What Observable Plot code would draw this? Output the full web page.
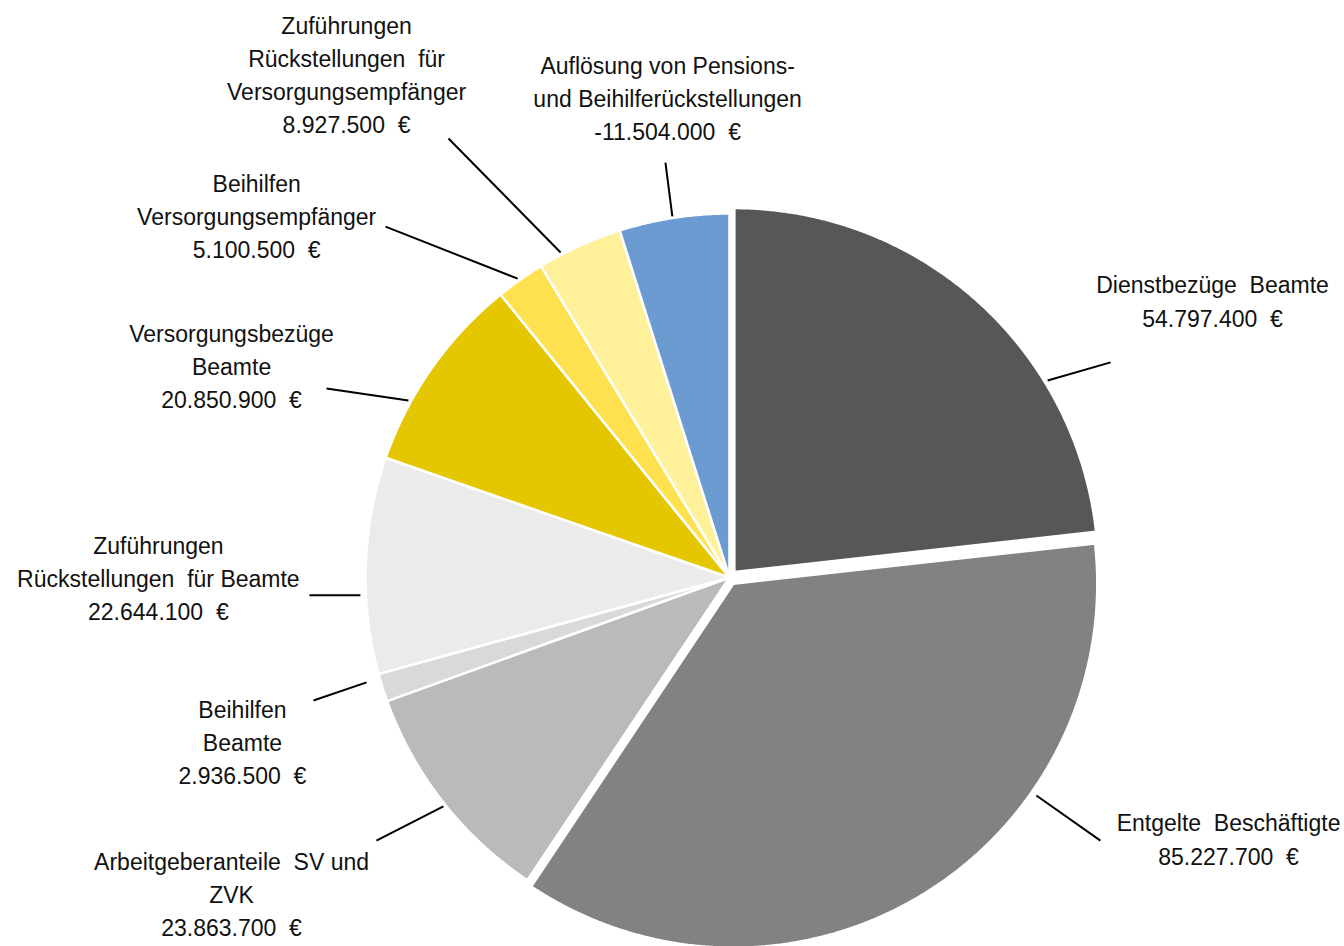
<!DOCTYPE html>
<html>
<head>
<meta charset="utf-8">
<script src="https://cdn.jsdelivr.net/npm/d3@7"></script>
<script src="https://cdn.jsdelivr.net/npm/@observablehq/plot@0.6"></script>
<style>
  html, body { margin: 0; padding: 0; background: #fff; }
  #chart svg text { white-space: pre; }
</style>
</head>
<body>
<div id="chart"></div>
<script>
// ---- data ----
const categories = [
  "Dienstbezüge  Beamte",
  "Entgelte  Beschäftigte",
  "Arbeitgeberanteile  SV und\nZVK",
  "Beihilfen\nBeamte",
  "Zuführungen\nRückstellungen  für Beamte",
  "Versorgungsbezüge\nBeamte",
  "Beihilfen\nVersorgungsempfänger",
  "Zuführungen\nRückstellungen  für\nVersorgungsempfänger",
  "Auflösung von Pensions-\nund Beihilferückstellungen"
];
const values = [54797400, 85227700, 23863700, 2936500, 22644100, 20850900, 5100500, 8927500, -11504000];
const colors = ["#575757", "#828282", "#bababa", "#d9d9d9", "#ebebeb", "#e4c700", "#ffe14f", "#fff09a", "#6b9bd1"];

// ---- layout (units of pie radius, origin at pie centre, y up) ----
const W = 1344, H = 946, CX = 729, CY = 577, R = 364;
const explode = [0.02, 0.02, 0, 0, 0, 0, 0, 0, 0];
const labelPos = [
  [1.327, 0.764], [1.371, -0.714], [-1.368, -0.866], [-1.338, -0.448], [-1.569, 0.003],
  [-1.368, 0.585], [-1.299, 0.997], [-1.052, 1.387], [-0.170, 1.321]
];
const leaderPos = [
  [1.047, 0.591, 0.874, 0.541], [1.019, -0.723, 0.843, -0.599], [-0.970, -0.723, -0.786, -0.629],
  [-1.143, -0.338, -0.997, -0.288], [-1.154, -0.049, -1.014, -0.049], [-1.107, 0.519, -0.882, 0.486],
  [-0.945, 0.964, -0.582, 0.821], [-0.772, 1.206, -0.464, 0.893], [-0.176, 1.140, -0.157, 0.992]
];

const fmt = d3.formatLocale({decimal: ",", thousands: ".", grouping: [3], currency: ["", ""], minus: "-"}).format(",d");

const arcs = d3.pie().sort(null).value(d => Math.abs(d))(values);
const slicePts = [];
arcs.forEach((a, i) => {
  const mid = (a.startAngle + a.endAngle) / 2;
  const ox = explode[i] * Math.sin(mid), oy = explode[i] * Math.cos(mid);
  slicePts.push({i, x: ox, y: oy, color: colors[i]});
  const n = Math.max(2, Math.ceil((a.endAngle - a.startAngle) / 0.005));
  for (let k = 0; k <= n; k++) {
    const t = a.startAngle + (a.endAngle - a.startAngle) * k / n;
    slicePts.push({i, x: ox + Math.sin(t), y: oy + Math.cos(t), color: colors[i]});
  }
  slicePts.push({i, x: ox, y: oy, color: colors[i]});
});

const labels = categories.map((c, i) => ({
  x: labelPos[i][0], y: labelPos[i][1],
  text: c + "\n" + fmt(values[i]) + "  €"
}));
const leaders = leaderPos.map(p => ({x1: p[0], y1: p[1], x2: p[2], y2: p[3]}));

const chart = Plot.plot({
  width: W, height: H,
  margin: 0,
  x: {domain: [-CX / R, (W - CX) / R], axis: null},
  y: {domain: [-(H - CY) / R, CY / R], axis: null},
  color: {type: "identity"},
  style: {fontFamily: "'Liberation Sans', Arial, sans-serif", background: "#fff"},
  marks: [
    Plot.line(slicePts, {x: "x", y: "y", z: "i", fill: "color", stroke: "#fff", strokeWidth: 2.5, strokeLinejoin: "round", curve: "linear"}),
    Plot.link(leaders, {x1: "x1", y1: "y1", x2: "x2", y2: "y2", stroke: "#000", strokeWidth: 2}),
    Plot.text(labels, {x: "x", y: "y", text: "text", fontSize: 23, lineHeight: 1.44, textAnchor: "middle", lineAnchor: "middle", fill: "#111"})
  ]
});
document.getElementById("chart").appendChild(chart);
</script>
</body>
</html>
